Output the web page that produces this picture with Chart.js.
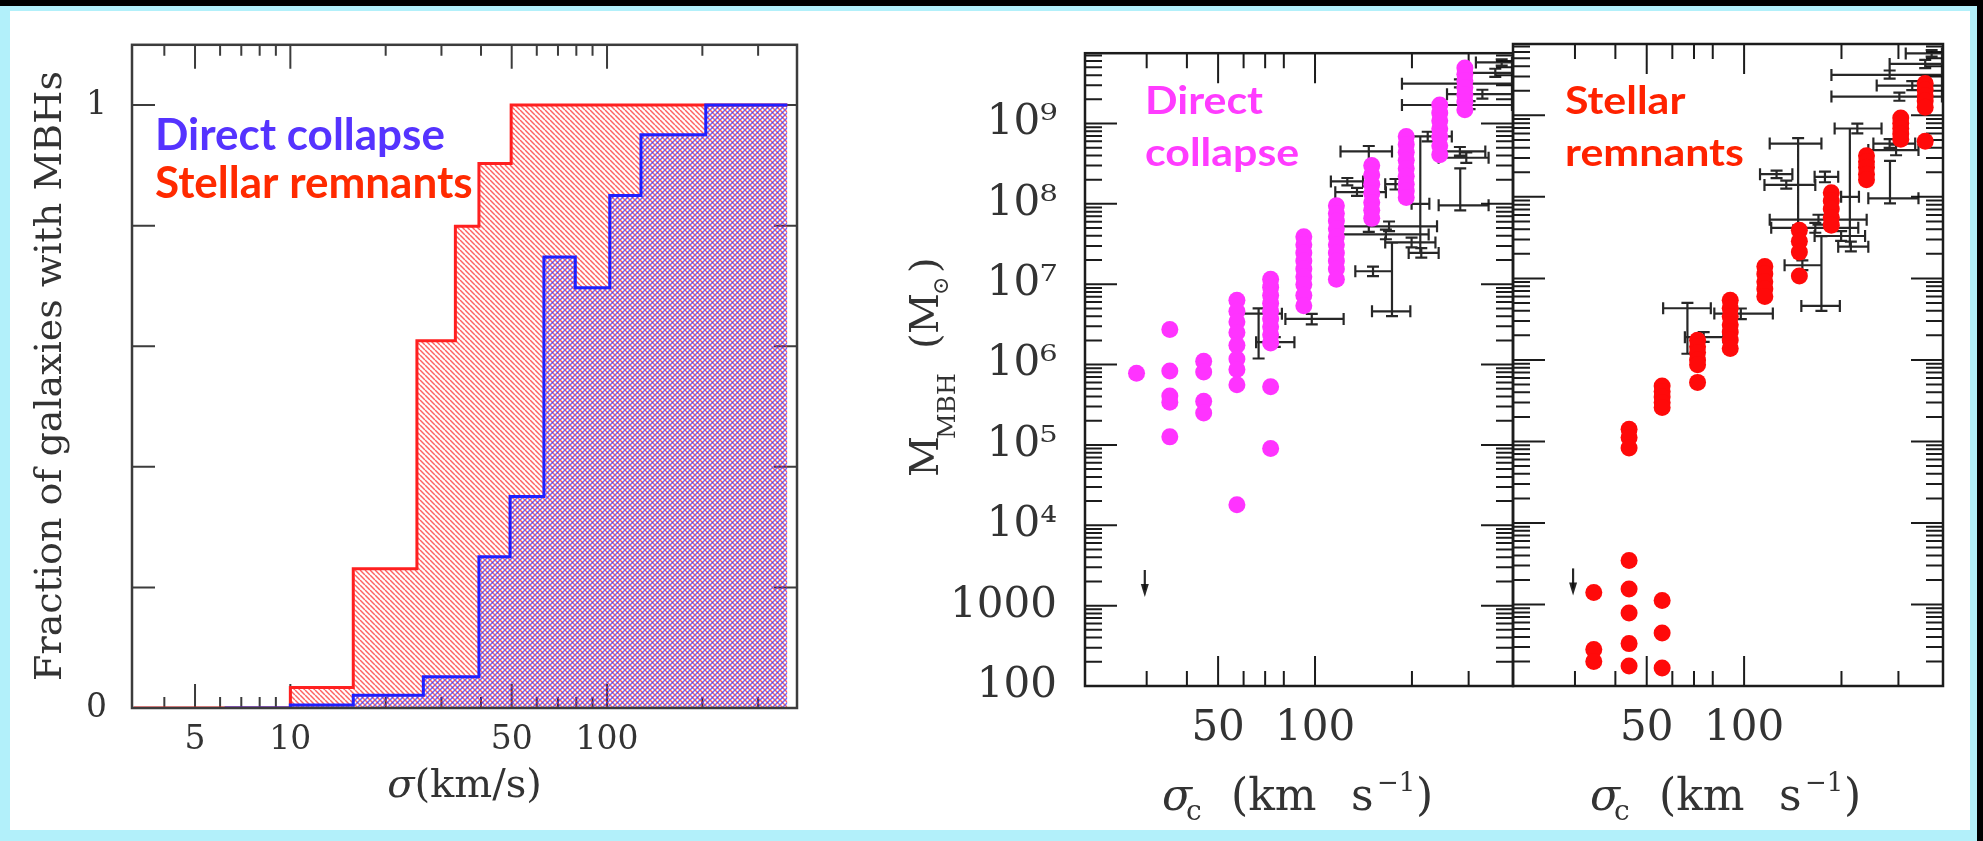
<!DOCTYPE html>
<html>
<head>
<meta charset="utf-8">
<title>MBH occupation fraction and M-sigma relation</title>
<script src="https://cdn.jsdelivr.net/npm/chart.js@4.4.1/dist/chart.umd.min.js"></script>
<style>
    html, body { margin: 0; padding: 0; background: #000; overflow: hidden; }
    #sheet { position: absolute; left: 0; top: 6px; width: 1977px; height: 835px; background: #b2f0fa; }
    #paper { position: absolute; left: 10px; top: 11px; width: 1960px; height: 819px; background: #fff; }
    canvas { position: absolute; left: 0; top: 0; }
</style>
</head>
<body>
<div id="sheet"></div>
<div id="paper"></div>
<canvas id="hist-chart" width="1983" height="841"></canvas>
<canvas id="dc-chart" width="1983" height="841"></canvas>
<canvas id="sr-chart" width="1983" height="841"></canvas>
<script>
// Left panel: fraction of galaxies hosting a MBH, per sigma bin (step edges + values)
const stellarEdges = [3.2, 10, 15.8, 25.1, 33.2, 39.4, 49.8, 371];
const stellarFrac = [0, 0.034, 0.231, 0.609, 0.799, 0.903, 1, 1];
const directEdges = [6.2, 10, 15.8, 26.3, 39.4, 49.4, 63.2, 79.4, 102, 128, 205, 371];
const directFrac = [0, 0.005, 0.021, 0.052, 0.251, 0.351, 0.748, 0.697, 0.85, 0.951, 1, 1];

const histXLabels = [5, 10, 50, 100];
const histXMinor = [4, 6, 7, 8, 9, 20, 30, 40, 60, 70, 80, 90, 200, 300];
const histYTicks = [0, 0.2, 0.4, 0.6, 0.8, 1];
const histYLabelled = [0, 1];

// Right panels: model MBH masses, one column of masses per sigma value
const dcSigma = [27.9, 35.4, 45.1, 57.2, 72.8, 92.3, 116.5, 150, 192, 244, 292];
const dcMass = [
    [7.8e5],
    [2.73e6, 8.3e5, 4.07e5, 3.39e5, 1.26e5],
    [1.1e6, 8.1e5, 3.5e5, 2.5e5],
    [6.3e6, 4.6e6, 3.4e6, 2.5e6, 1.74e6, 1.17e6, 8.7e5, 5.6e5, 1.8e4],
    [1.15e7, 9.2e6, 7.3e6, 5.8e6, 4.6e6, 3.7e6, 2.95e6, 2.35e6, 1.86e6, 5.3e5, 9.0e4],
    [3.9e7, 3.1e7, 2.45e7, 1.95e7, 1.55e7, 1.24e7, 9.9e6, 7.3e6, 5.4e6],
    [9.5e7, 7.6e7, 6.1e7, 4.9e7, 3.9e7, 3.1e7, 2.45e7, 1.95e7, 1.55e7, 1.15e7],
    [3.0e8, 2.3e8, 1.76e8, 1.35e8, 1.04e8, 8.3e7, 6.6e7],
    [6.9e8, 5.5e8, 4.4e8, 3.5e8, 2.75e8, 2.2e8, 1.76e8, 1.45e8, 1.2e8],
    [1.7e9, 1.35e9, 1.08e9, 8.6e8, 6.9e8, 5.3e8, 4.1e8],
    [4.9e9, 4.1e9, 3.4e9, 2.8e9, 2.3e9, 1.85e9, 1.48e9]
];
const srSigma = [34.3, 44.1, 55.8, 71.8, 90.6, 115.9, 148.2, 186, 239, 305, 363];
const srMass = [
    [1400, 280, 200],
    [1.41e5, 1.12e5, 8.3e4, 3470, 1550, 785, 331, 176],
    [4.8e5, 4.1e5, 3.5e5, 3.0e5, 2.6e5, 1120, 447, 166],
    [1.74e6, 1.45e6, 1.23e6, 1.0e6, 8.7e5, 5.3e5],
    [5.4e6, 4.3e6, 3.4e6, 2.7e6, 2.2e6, 1.75e6, 1.38e6],
    [1.4e7, 1.13e7, 9.1e6, 7.4e6, 6.0e6],
    [3.9e7, 2.85e7, 2.1e7, 1.07e7],
    [1.12e8, 8.9e7, 7.1e7, 5.6e7, 4.5e7],
    [3.2e8, 2.7e8, 2.3e8, 1.9e8, 1.62e8],
    [9.3e8, 8.0e8, 6.9e8, 5.9e8, 5.1e8],
    [2.45e9, 2.05e9, 1.74e9, 1.5e9, 1.26e9, 4.8e8]
];

// Observed galaxies (same set in both panels): sigma and mass with their ranges
const obsSigma   = [66.8, 75, 97.7, 146.9, 177.8, 169.8, 166, 199.5, 213.8, 151.4, 173.4, 212.3, 281.8, 302, 331, 223.9, 295, 281.8, 282.5, 363, 380, 135, 126];
const obsSigmaLo = [56.2, 65.6, 80.9, 120, 165.2, 120, 121.3, 165.2, 195.4, 133.4, 150.3, 199.5, 186.2, 186.2, 257, 190.5, 242.1, 251, 242.1, 281.8, 316, 115.6, 112];
const obsSigmaHi = [78.9, 86.3, 122.7, 173.4, 195.4, 239.3, 225.4, 236.6, 242.1, 173.4, 197.7, 226.5, 409, 409, 409, 266, 346, 338, 346, 409, 409, 166, 141];
const obsMass    = [4.3e6, 1.9e6, 3.7e6, 4.5e8, 1.76e8, 5.25e7, 4.17e7, 3.31e7, 2.45e7, 1.45e7, 4.6e6, 1.0e8, 3.13e9, 1.7e9, 2.32e9, 6.9e8, 3.75e8, 4.5e8, 9.6e7, 4.27e9, 5.75e9, 1.4e8, 1.9e8];
const obsMassLo  = [1.19e6, 1.66e6, 3.16e6, 4.47e7, 1.51e8, 4.57e7, 3.63e7, 2.88e7, 2.14e7, 1.26e7, 4.0e6, 2.45e7, 2.82e9, 1.51e9, 2.04e9, 6.0e8, 3.24e8, 3.98e8, 8.3e7, 3.8e9, 5.25e9, 1.26e8, 1.7e8];
const obsMassHi  = [5.0e6, 2.19e6, 4.27e6, 5.25e8, 2.04e8, 6.03e7, 4.79e7, 3.8e7, 2.82e7, 1.66e7, 3.3e7, 6.9e8, 3.55e9, 1.9e9, 2.63e9, 7.9e8, 4.37e8, 5.1e8, 2.77e8, 4.8e9, 6.3e9, 1.58e8, 2.1e8];
const limitSigma = [29.6];
const limitMass = [2770];

const sigmaMin = 19.3;
const sigmaMax = 412;
const massMin = 100;
const massMax = 7.5e9;
const sigmaLabels = [50, 100];
const sigmaMinor = [30, 40, 60, 70, 80, 200, 300];
const massDecades = [1e2, 1e3, 1e4, 1e5, 1e6, 1e7, 1e8, 1e9];
const massDecadeText = ['100', '1000', '10⁴', '10⁵', '10⁶', '10⁷', '10⁸', '10⁹'];

// minor tick marks 2..9 inside every decade
const massMinor = [];
massDecades.forEach(d => {
    for (let k = 2; k <= 9; k++) {
        if (d * k < massMax) massMinor.push(d * k);
    }
});

const SERIF = '"DejaVu Serif", "DejaVu Sans", serif';
const SANS_BOLD = 'bold {s}px Lato, "Open Sans", sans-serif';

// Inward tick marks on all four sides plus the box frame
const axisFrame = {
    id: 'axisFrame',
    beforeDatasetsDraw(chart, args, o) {
        const { ctx, chartArea: a, scales: { x, y } } = chart;
        ctx.save();
        ctx.strokeStyle = o.color;
        ctx.lineWidth = o.tickWidth;
        ctx.beginPath();
        o.xTicks.forEach(v => {
            const px = x.getPixelForValue(v);
            const len = o.xMajor.includes(v) ? o.xLong : o.xShort;
            ctx.moveTo(px, a.top);
            ctx.lineTo(px, a.top + len);
            ctx.moveTo(px, a.bottom);
            ctx.lineTo(px, a.bottom - len);
        });
        o.yTicks.forEach(v => {
            const py = y.getPixelForValue(v);
            const len = o.yMajor.includes(v) ? o.yLong : o.yShort;
            ctx.moveTo(a.left, py);
            ctx.lineTo(a.left + len, py);
            ctx.moveTo(a.right, py);
            ctx.lineTo(a.right - len, py);
        });
        ctx.stroke();
        ctx.restore();
    },
    afterDatasetsDraw(chart, args, o) {
        const { ctx, chartArea: a } = chart;
        ctx.save();
        ctx.strokeStyle = o.color;
        ctx.lineWidth = o.frameWidth;
        ctx.strokeRect(a.left, a.top, a.right - a.left, a.bottom - a.top);
        ctx.restore();
    }
};

// Error crosses of the observed sample and the upper-limit arrow
const errorBars = {
    id: 'errorBars',
    beforeDatasetsDraw(chart) {
        const { ctx, chartArea: a, scales: { x, y } } = chart;
        const cap = 6;
        ctx.save();
        ctx.beginPath();
        ctx.rect(a.left, a.top, a.right - a.left, a.bottom - a.top);
        ctx.clip();
        ctx.strokeStyle = 'rgba(15, 15, 15, 0.9)';
        ctx.lineWidth = 2.2;
        ctx.beginPath();
        obsSigma.forEach((s, i) => {
            const px = x.getPixelForValue(s);
            const py = y.getPixelForValue(obsMass[i]);
            const x0 = x.getPixelForValue(obsSigmaLo[i]);
            const x1 = x.getPixelForValue(obsSigmaHi[i]);
            const y0 = y.getPixelForValue(obsMassLo[i]);
            const y1 = y.getPixelForValue(obsMassHi[i]);
            ctx.moveTo(x0, py); ctx.lineTo(x1, py);
            ctx.moveTo(x0, py - cap); ctx.lineTo(x0, py + cap);
            ctx.moveTo(x1, py - cap); ctx.lineTo(x1, py + cap);
            ctx.moveTo(px, y0); ctx.lineTo(px, y1);
            ctx.moveTo(px - cap, y0); ctx.lineTo(px + cap, y0);
            ctx.moveTo(px - cap, y1); ctx.lineTo(px + cap, y1);
        });
        ctx.stroke();

        ctx.fillStyle = ctx.strokeStyle;
        limitSigma.forEach((s, i) => {
            const px = x.getPixelForValue(s);
            const py = y.getPixelForValue(limitMass[i]);
            ctx.beginPath();
            ctx.moveTo(px, py);
            ctx.lineTo(px, py + 20);
            ctx.stroke();
            ctx.beginPath();
            ctx.moveTo(px - 4, py + 14);
            ctx.lineTo(px + 4, py + 14);
            ctx.lineTo(px, py + 27);
            ctx.closePath();
            ctx.fill();
        });
        ctx.restore();
    }
};

function stretchedText(ctx, text, x, y, sx) {
    ctx.save();
    ctx.translate(x, y);
    ctx.scale(sx, 1);
    ctx.fillText(text, 0, 0);
    ctx.restore();
}

// sigma_c (km s^-1) under a mass panel
function drawSigmaTitle(ctx, left) {
    const base = 810;
    const parts = [
        ['σ', 'italic 44px ' + SERIF, 77, 0],
        ['c', '28px ' + SERIF, 101, 10],
        ['(km', '44px ' + SERIF, 146, 0],
        ['s', '44px ' + SERIF, 266, 0],
        ['−1', '26px ' + SERIF, 292, -19],
        [')', '44px ' + SERIF, 331, 0]
    ];
    ctx.fillStyle = '#333';
    ctx.textAlign = 'left';
    ctx.textBaseline = 'alphabetic';
    parts.forEach(([t, f, dx, dy]) => {
        ctx.font = f;
        ctx.fillText(t, left + dx, base + dy);
    });
}

function hatch(ctx, color, dir) {
    const s = 5;
    const tile = document.createElement('canvas');
    tile.width = s;
    tile.height = s;
    const c = tile.getContext('2d');
    c.strokeStyle = color;
    c.lineWidth = 1.45;
    c.beginPath();
    for (let k = -1; k <= 1; k++) {
        if (dir === 'down') {
            c.moveTo(k * s, 0);
            c.lineTo(k * s + s, s);
        } else {
            c.moveTo(k * s, s);
            c.lineTo(k * s + s, 0);
        }
    }
    c.stroke();
    return ctx.createPattern(tile, 'repeat');
}

// ---------- left panel ----------
const histCanvas = document.getElementById('hist-chart');
const histCtx = histCanvas.getContext('2d');

const histText = {
    id: 'histText',
    afterDraw(chart) {
        const { ctx, chartArea: a } = chart;
        ctx.save();
        ctx.fillStyle = '#333';
        ctx.textBaseline = 'alphabetic';

        ctx.save();
        ctx.font = '38px ' + SERIF;
        ctx.textAlign = 'center';
        ctx.translate(61, 376);
        ctx.rotate(-Math.PI / 2);
        ctx.fillText('Fraction of galaxies with MBHs', 0, 0);
        ctx.restore();

        ctx.font = 'italic 40px ' + SERIF;
        const w1 = ctx.measureText('σ').width;
        ctx.font = '40px ' + SERIF;
        const w2 = ctx.measureText('(km/s)').width;
        const x0 = (a.left + a.right) / 2 - (w1 + w2) / 2;
        ctx.textAlign = 'left';
        ctx.font = 'italic 40px ' + SERIF;
        ctx.fillText('σ', x0, 797);
        ctx.font = '40px ' + SERIF;
        ctx.fillText('(km/s)', x0 + w1, 797);

        ctx.font = SANS_BOLD.replace('{s}', 44);
        ctx.fillStyle = '#5533ff';
        ctx.fillText('Direct collapse', 155, 150);
        ctx.fillStyle = '#ff2a00';
        ctx.fillText('Stellar remnants', 155, 198);
        ctx.restore();
    }
};

new Chart(histCanvas, {
    type: 'line',
    data: {
        datasets: [
            {
                label: 'Stellar remnants',
                data: stellarEdges.map((x, i) => ({ x, y: stellarFrac[i] })),
                stepped: 'before',
                borderColor: '#ff2020',
                borderWidth: 3,
                pointRadius: 0,
                fill: 'origin',
                backgroundColor: hatch(histCtx, 'rgba(255, 45, 45, 0.75)', 'down'),
                order: 2
            },
            {
                label: 'Direct collapse',
                data: directEdges.map((x, i) => ({ x, y: directFrac[i] })),
                stepped: 'before',
                borderColor: '#2020ff',
                borderWidth: 3,
                pointRadius: 0,
                fill: 'origin',
                backgroundColor: hatch(histCtx, 'rgba(45, 45, 255, 0.7)', 'up'),
                order: 1
            }
        ]
    },
    options: {
        responsive: false,
        animation: false,
        events: [],
        layout: { padding: { left: 72, top: 43, right: 1186, bottom: 33 } },
        scales: {
            x: {
                type: 'logarithmic',
                min: 3.162,
                max: 398,
                afterBuildTicks: s => { s.ticks = histXLabels.map(v => ({ value: v })); },
                afterFit: s => { s.height = 100; },
                grid: { display: false, drawTicks: false },
                border: { display: false },
                ticks: {
                    callback: v => String(v),
                    autoSkip: false,
                    maxRotation: 0,
                    padding: 13,
                    color: '#333',
                    font: { family: SERIF, size: 33 }
                }
            },
            y: {
                type: 'linear',
                min: 0,
                max: 1.1,
                afterBuildTicks: s => { s.ticks = histYTicks.map(v => ({ value: v })); },
                afterFit: s => { s.width = 60; },
                grid: { display: false, drawTicks: false },
                border: { display: false },
                ticks: {
                    callback: v => histYLabelled.includes(v) ? String(v) : '',
                    autoSkip: false,
                    padding: 25,
                    color: '#333',
                    font: { family: SERIF, size: 33 }
                }
            }
        },
        plugins: {
            legend: { display: false },
            tooltip: { enabled: false },
            axisFrame: {
                color: '#3c3c3c', tickWidth: 2, frameWidth: 2.5,
                xTicks: [...histXLabels, ...histXMinor], xMajor: histXLabels, xLong: 24, xShort: 11,
                yTicks: histYTicks, yMajor: histYTicks, yLong: 23, yShort: 23
            }
        }
    },
    plugins: [axisFrame, histText]
});

// ---------- right panels ----------
function massChart(canvasId, sigma, mass, color, showY, padding, textPlugin) {
    const points = sigma.flatMap((s, i) => mass[i].map(m => ({ x: s, y: m })));
    return new Chart(document.getElementById(canvasId), {
        type: 'scatter',
        data: {
            datasets: [{
                data: points,
                backgroundColor: color,
                borderWidth: 0,
                pointRadius: 8.5
            }]
        },
        options: {
            responsive: false,
            animation: false,
            events: [],
            layout: { padding },
            scales: {
                x: {
                    type: 'logarithmic',
                    min: sigmaMin,
                    max: sigmaMax,
                    afterBuildTicks: s => { s.ticks = sigmaLabels.map(v => ({ value: v })); },
                    afterFit: s => { s.height = 120; },
                    grid: { display: false, drawTicks: false },
                    border: { display: false },
                    ticks: {
                        callback: v => String(v),
                        autoSkip: false,
                        maxRotation: 0,
                        padding: 18,
                        color: '#333',
                        font: { family: SERIF, size: 42 }
                    }
                },
                y: {
                    type: 'logarithmic',
                    display: showY,
                    min: massMin,
                    max: massMax,
                    afterBuildTicks: s => { s.ticks = massDecades.map(v => ({ value: v })); },
                    afterFit: s => { s.width = showY ? 150 : 0; },
                    grid: { display: false, drawTicks: false },
                    border: { display: false },
                    ticks: {
                        callback: v => massDecadeText[massDecades.indexOf(v)],
                        autoSkip: false,
                        padding: 28,
                        color: '#333',
                        font: { family: SERIF, size: 42 }
                    }
                }
            },
            plugins: {
                legend: { display: false },
                tooltip: { enabled: false },
                axisFrame: {
                    color: '#1c1c1c', tickWidth: 2, frameWidth: 2.5,
                    xTicks: [...sigmaLabels, ...sigmaMinor], xMajor: sigmaLabels, xLong: 30, xShort: 15,
                    yTicks: [...massDecades, ...massMinor], yMajor: massDecades, yLong: 32, yShort: 17
                }
            }
        },
        plugins: [axisFrame, errorBars, textPlugin]
    });
}

const dcText = {
    id: 'dcText',
    afterDraw(chart) {
        const { ctx, chartArea: a } = chart;
        ctx.save();
        drawSigmaTitle(ctx, a.left);

        // M_MBH (M_sun), rotated
        ctx.save();
        ctx.translate(938, 477);
        ctx.rotate(-Math.PI / 2);
        ctx.fillStyle = '#333';
        ctx.textAlign = 'left';
        const parts = [
            ['M', '40px ' + SERIF, 0, 0],
            ['MBH', '25px ' + SERIF, 38, 17],
            ['(', '40px ' + SERIF, 128, 0],
            ['M', '40px ' + SERIF, 143, 0],
            ['⊙', '22px ' + SERIF, 182, 10],
            [')', '40px ' + SERIF, 204, 0]
        ];
        parts.forEach(([t, f, du, dv]) => {
            ctx.font = f;
            ctx.fillText(t, du, dv);
        });
        ctx.restore();

        ctx.font = SANS_BOLD.replace('{s}', 39);
        ctx.fillStyle = '#ff3cff';
        ctx.textAlign = 'left';
        stretchedText(ctx, 'Direct', 1145, 114, 1.1);
        stretchedText(ctx, 'collapse', 1145, 166, 1.1);
        ctx.restore();
    }
};

const srText = {
    id: 'srText',
    afterDraw(chart) {
        const { ctx, chartArea: a } = chart;
        ctx.save();
        drawSigmaTitle(ctx, a.left);
        ctx.font = SANS_BOLD.replace('{s}', 39);
        ctx.fillStyle = '#ff2200';
        ctx.textAlign = 'left';
        stretchedText(ctx, 'Stellar', 1565, 114, 1.1);
        stretchedText(ctx, 'remnants', 1565, 166, 1.1);
        ctx.restore();
    }
};

massChart('dc-chart', dcSigma, dcMass, '#ff33ff', true,
    { left: 935, top: 44, right: 470, bottom: 35 }, dcText);
massChart('sr-chart', srSigma, srMass, '#ff0a0a', false,
    { left: 1513, top: 44, right: 40, bottom: 35 }, srText);
</script>
</body>
</html>
